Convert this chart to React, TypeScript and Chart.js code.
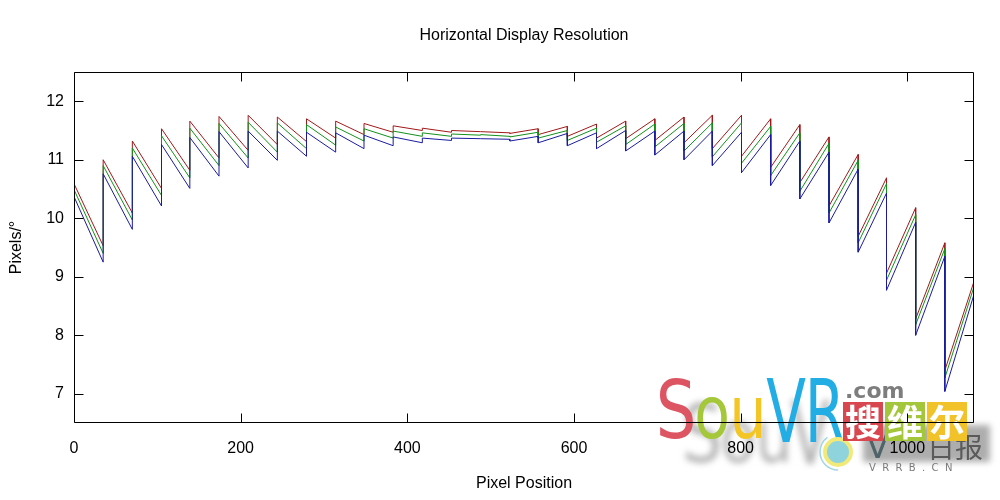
import React, { useEffect, useRef } from 'react';
import { Chart, registerables } from 'chart.js';

Chart.register(...registerables);

// Segment boundaries along the horizontal pixel position (0 – 1080)
const BREAKS = [
  0, 35, 70, 105, 139, 174, 209, 244, 279, 314, 348, 383, 418, 453, 488, 523,
  557, 592, 627, 662, 697, 732, 766, 801, 836, 871, 906, 941, 975, 1010, 1045, 1080,
];

// Resolution (pixels per degree) at the start and end of each segment
const RED_START = [
  10.59, 11.0, 11.32, 11.53, 11.66, 11.74, 11.76, 11.73, 11.7, 11.66, 11.62, 11.58, 11.54, 11.5, 11.48, 11.45,
  11.43, 11.4, 11.37, 11.36, 11.33, 11.29, 11.19, 11.06, 10.87, 10.61, 10.21, 9.69, 9.06, 8.28, 7.4,
];
const RED_END = [
  9.53, 10.09, 10.51, 10.82, 11.03, 11.16, 11.26, 11.31, 11.37, 11.43, 11.47, 11.5, 11.47, 11.48, 11.46, 11.53,
  11.57, 11.61, 11.66, 11.7, 11.73, 11.76, 11.76, 11.7, 11.6, 11.39, 11.09, 10.69, 10.18, 9.58, 8.92,
];
const GREEN_START = [
  10.49, 10.9, 11.2, 11.41, 11.54, 11.62, 11.64, 11.63, 11.6, 11.56, 11.53, 11.49, 11.46, 11.44, 11.43, 11.39,
  11.37, 11.33, 11.3, 11.26, 11.22, 11.15, 11.05, 10.94, 10.73, 10.46, 10.09, 9.58, 8.94, 8.18, 7.27,
];
const GREEN_END = [
  9.4, 9.97, 10.39, 10.69, 10.9, 11.03, 11.13, 11.19, 11.25, 11.32, 11.37, 11.4, 11.4, 11.42, 11.4, 11.47,
  11.5, 11.54, 11.58, 11.61, 11.62, 11.63, 11.63, 11.57, 11.46, 11.28, 10.99, 10.59, 10.06, 9.48, 8.83,
];
const BLUE_START = [
  10.37, 10.76, 11.06, 11.26, 11.38, 11.48, 11.49, 11.49, 11.47, 11.46, 11.42, 11.39, 11.37, 11.37, 11.36, 11.32,
  11.29, 11.24, 11.19, 11.15, 11.08, 11.0, 10.9, 10.78, 10.56, 10.33, 9.92, 9.42, 8.77, 8.0, 7.04,
];
const BLUE_END = [
  9.25, 9.81, 10.21, 10.51, 10.72, 10.86, 10.99, 11.06, 11.13, 11.19, 11.24, 11.29, 11.33, 11.36, 11.35, 11.4,
  11.45, 11.46, 11.5, 11.49, 11.49, 11.49, 11.47, 11.43, 11.32, 11.13, 10.84, 10.43, 9.93, 9.35, 8.7,
];

const X_TICKS = [0, 200, 400, 600, 800, 1000];
const Y_TICKS = [7, 8, 9, 10, 11, 12];

const TITLE = 'Horizontal Display Resolution';
const X_TITLE = 'Pixel Position';
const Y_TITLE = 'Pixels/°';

const FONT_FAMILY = "'Liberation Sans', Arial, sans-serif";
const FONT_SIZE = 16;

function sawtooth(starts: number[], ends: number[]) {
  const pts: { x: number; y: number }[] = [];
  for (let i = 0; i < starts.length; i++) {
    pts.push({ x: BREAKS[i], y: starts[i] });
    pts.push({ x: BREAKS[i + 1], y: ends[i] });
  }
  return pts;
}

// Site logo stamped in the lower right corner, beneath the axes and curves
function drawLetter(ctx: CanvasRenderingContext2D, ch: string, cx: number, base: number, size: number, sx: number, color: string) {
  ctx.save();
  ctx.translate(cx, base);
  ctx.scale(sx, 1);
  ctx.font = `${size}px 'DejaVu Sans', sans-serif`;
  ctx.textAlign = 'center';
  ctx.textBaseline = 'alphabetic';
  ctx.fillStyle = color;
  ctx.fillText(ch, 0, 0);
  ctx.restore();
}

const logoStamp = {
  id: 'logoStamp',
  beforeDraw(chart: any) {
    const ctx: CanvasRenderingContext2D = chart.ctx;
    ctx.save();

    // soft grey shadow of the logo
    ctx.filter = 'blur(3px)';
    ctx.globalAlpha = 0.5;
    drawLetter(ctx, 'S', 702, 462, 80, 0.8, '#6e6e6e');
    drawLetter(ctx, 'o', 738, 462, 73, 0.8, '#6e6e6e');
    drawLetter(ctx, 'u', 774, 462, 73, 0.8, '#6e6e6e');
    drawLetter(ctx, 'V', 810, 464, 88, 0.66, '#6e6e6e');
    ctx.globalAlpha = 0.7;
    ctx.fillStyle = '#8a8a8a';
    ctx.fillRect(863, 425, 127, 37);
    ctx.filter = 'none';
    ctx.globalAlpha = 1;

    ctx.fillStyle = '#4f6468';
    ctx.font = `34px 'DejaVu Sans', sans-serif`;
    ctx.textAlign = 'left';
    ctx.textBaseline = 'alphabetic';
    ctx.fillText('V', 866, 458);
    ctx.font = `28px 'Noto Sans CJK SC', sans-serif`;
    ctx.fillStyle = '#5a5a5a';
    ctx.fillText('日报', 927, 458);
    ctx.font = `10px 'DejaVu Sans', sans-serif`;
    ctx.fillStyle = '#7a7a7a';
    ctx.fillText('V  R  R  B  .  C  N', 869, 471);

    // coloured lettering
    drawLetter(ctx, 'S', 676, 438, 80, 0.8, '#dd5563');
    drawLetter(ctx, 'o', 712, 438, 73, 0.8, '#a5c83b');
    drawLetter(ctx, 'u', 748, 438, 73, 0.8, '#f3c625');
    drawLetter(ctx, 'V', 786, 442, 88, 0.66, '#23ade5');
    drawLetter(ctx, 'R', 825, 442, 88, 0.66, '#23ade5');

    ctx.fillStyle = '#7d7d7d';
    ctx.font = `bold 22px 'DejaVu Sans', sans-serif`;
    ctx.textAlign = 'left';
    ctx.fillText('.com', 845, 398);

    // round badge
    ctx.beginPath();
    ctx.arc(838, 452, 13, 0, Math.PI * 2);
    ctx.fillStyle = '#8fd3dc';
    ctx.fill();
    ctx.lineWidth = 4;
    ctx.strokeStyle = '#f1ea78';
    ctx.stroke();
    ctx.beginPath();
    ctx.arc(838, 452, 18, Math.PI * 0.5, Math.PI * 1.3);
    ctx.lineWidth = 1.5;
    ctx.strokeStyle = '#9ed8df';
    ctx.stroke();

    // three coloured tiles with white characters
    const tiles = [
      { ch: '搜', x: 843, color: '#d8464f' },
      { ch: '维', x: 885, color: '#a3c63a' },
      { ch: '尔', x: 927, color: '#f2c22a' },
    ];
    tiles.forEach((t) => {
      ctx.fillStyle = t.color;
      ctx.fillRect(t.x, 402, 40, 39);
      ctx.fillStyle = '#fff';
      ctx.font = `bold 36px 'Noto Sans CJK SC', sans-serif`;
      ctx.textAlign = 'center';
      ctx.textBaseline = 'middle';
      ctx.fillText(t.ch, t.x + 20, 422);
    });

    ctx.restore();
  },
};

// Box frame with inward tick marks on all four sides, plus the centred title
const frameTicks = {
  id: 'frameTicks',
  afterDatasetsDraw(chart: any) {
    const { ctx, chartArea } = chart;
    const x = chart.scales.x;
    const y = chart.scales.y;
    const L = Math.round(chartArea.left) + 0.5;
    const R = Math.round(chartArea.right) - 0.5;
    const T = Math.round(chartArea.top) + 0.5;
    const B = Math.round(chartArea.bottom) - 0.5;
    const len = 9;
    ctx.save();
    ctx.strokeStyle = '#000';
    ctx.lineWidth = 1;
    ctx.beginPath();
    ctx.moveTo(L, T);
    ctx.lineTo(R, T);
    ctx.lineTo(R, B);
    ctx.lineTo(L, B);
    ctx.closePath();
    X_TICKS.forEach((v) => {
      const px = Math.round(x.getPixelForValue(v)) + 0.5;
      ctx.moveTo(px, B);
      ctx.lineTo(px, B - len);
      ctx.moveTo(px, T);
      ctx.lineTo(px, T + len);
    });
    Y_TICKS.forEach((v) => {
      const py = Math.round(y.getPixelForValue(v)) + 0.5;
      ctx.moveTo(L, py);
      ctx.lineTo(L + len, py);
      ctx.moveTo(R, py);
      ctx.lineTo(R - len, py);
    });
    ctx.stroke();

    ctx.fillStyle = '#000';
    ctx.font = `${FONT_SIZE}px ${FONT_FAMILY}`;
    ctx.textAlign = 'center';
    ctx.textBaseline = 'middle';
    ctx.fillText(TITLE, (chartArea.left + chartArea.right) / 2, 36);
    ctx.restore();
  },
};

export default function App() {
  const canvasRef = useRef<HTMLCanvasElement | null>(null);

  useEffect(() => {
    if (!canvasRef.current) return;
    const font = { family: FONT_FAMILY, size: FONT_SIZE };
    const lineStyle = { borderWidth: 1, pointRadius: 0, fill: false, tension: 0 };
    const chart = new Chart(canvasRef.current, {
      type: 'line',
      data: {
        datasets: [
          { label: 'blue', data: sawtooth(BLUE_START, BLUE_END), borderColor: '#1a1aa0', ...lineStyle },
          { label: 'green', data: sawtooth(GREEN_START, GREEN_END), borderColor: '#12901a', ...lineStyle },
          { label: 'red', data: sawtooth(RED_START, RED_END), borderColor: '#a01818', ...lineStyle },
        ],
      },
      options: {
        responsive: false,
        animation: false,
        color: '#000',
        layout: { padding: { top: 72, right: 26, left: 0, bottom: 0 } },
        plugins: {
          legend: { display: false },
          title: { display: false },
          tooltip: { enabled: false },
        },
        scales: {
          x: {
            type: 'linear',
            min: 0,
            max: 1080,
            grid: { display: false, drawTicks: false },
            border: { display: false },
            afterBuildTicks: (scale: any) => {
              scale.ticks = X_TICKS.map((v) => ({ value: v }));
            },
            afterFit: (scale: any) => {
              scale.height = 77;
            },
            ticks: {
              color: '#000',
              font,
              padding: 16.4,
              maxRotation: 0,
              autoSkip: false,
              callback: (v: any) => String(v),
            },
            title: { display: true, text: X_TITLE, color: '#000', font, padding: { top: 0, bottom: 6.4 } },
          },
          y: {
            type: 'linear',
            min: 6.5,
            max: 12.5,
            grid: { display: false, drawTicks: false },
            border: { display: false },
            afterBuildTicks: (scale: any) => {
              scale.ticks = Y_TICKS.map((v) => ({ value: v }));
            },
            afterFit: (scale: any) => {
              scale.width = 74;
            },
            ticks: { color: '#000', font, padding: 10, callback: (v: any) => String(v) },
            title: { display: true, text: Y_TITLE, color: '#000', font, padding: { top: 7.4, bottom: 0 } },
          },
        },
      },
      plugins: [logoStamp, frameTicks],
    });
    return () => chart.destroy();
  }, []);

  return (
    <div style={{ position: 'fixed', left: 0, top: 0, width: 1000, height: 500, background: '#fff' }}>
      <canvas ref={canvasRef} width={1000} height={500} style={{ display: 'block' }} />
    </div>
  );
}
